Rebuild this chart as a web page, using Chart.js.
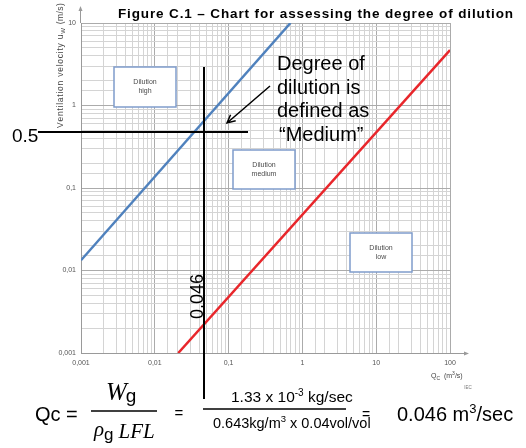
<!DOCTYPE html>
<html>
<head>
<meta charset="utf-8">
<title>Figure C.1</title>
<script src="https://cdn.jsdelivr.net/npm/chart.js@4.4.1/dist/chart.umd.min.js"></script>
<style>
    html, body { margin: 0; padding: 0; background: #ffffff; }
    #wrap { width: 526px; height: 448px; }
</style>
</head>
<body>
<div id="wrap"><canvas id="dilutionChart" width="526" height="448"></canvas></div>
<script>
// --- DATA ---
// boundary lines (log-log, both are straight lines)
const blueX = [0.001, 0.69];
const blueY = [0.0133, 10];
const redX = [0.0208, 100];
const redY = [0.001, 4.7];

// axis ticks
const xTickValues = [0.001, 0.01, 0.1, 1, 10, 100];
const xTickLabels = ['0,001', '0,01', '0,1', '1', '10', '100'];
const yTickValues = [0.001, 0.01, 0.1, 1, 10];
const yTickLabels = ['0,001', '0,01', '0,1', '1', '10'];

// worked example: release rate gives Qc, velocity is 0.5 m/s
const exampleQc = 0.046;
const exampleVelocity = 0.5;

const SANS = '"Liberation Sans", Arial, sans-serif';
const SERIF = '"Liberation Serif", "Times New Roman", serif';

function toPoints(xs, ys) {
    return xs.map((x, i) => ({ x: x, y: ys[i] }));
}

function majorIndex(values, v) {
    for (let i = 0; i < values.length; i++) {
        if (Math.abs(Math.log10(v) - Math.log10(values[i])) < 1e-6) return i;
    }
    return -1;
}

// --- ANNOTATIONS (drawn straight on the canvas) ---
function textAt(ctx, str, x, y, font, color, align, baseline) {
    ctx.font = font;
    ctx.fillStyle = color || '#000';
    ctx.textAlign = align || 'left';
    ctx.textBaseline = baseline || 'alphabetic';
    ctx.fillText(str, x, y);
    return x + ctx.measureText(str).width;
}

// spread the characters so the string fills the given width (wide tracking in the original)
function spreadText(ctx, str, x, y, width, font, color) {
    ctx.font = font;
    ctx.fillStyle = color || '#000';
    ctx.textAlign = 'left';
    ctx.textBaseline = 'alphabetic';
    const natural = ctx.measureText(str).width;
    const gap = (width - natural) / (str.length - 1);
    let px = x;
    for (const ch of str) {
        ctx.fillText(ch, px, y);
        px += ctx.measureText(ch).width + gap;
    }
    return px;
}

function labelBox(ctx, x, y, w, h, lines) {
    ctx.fillStyle = '#ffffff';
    ctx.fillRect(x, y, w, h);
    ctx.strokeStyle = '#7f9ccb';
    ctx.lineWidth = 1.5;
    ctx.strokeRect(x, y, w, h);
    lines.forEach((t, i) => {
        textAt(ctx, t, x + w / 2, y + h / 2 + (i - (lines.length - 1) / 2) * 9, '7px ' + SANS, '#4a4a4a', 'center', 'middle');
    });
}

function arrow(ctx, x1, y1, x2, y2) {
    ctx.strokeStyle = '#000';
    ctx.lineWidth = 1.5;
    ctx.beginPath();
    ctx.moveTo(x1, y1);
    ctx.lineTo(x2, y2);
    const a = Math.atan2(y2 - y1, x2 - x1);
    ctx.moveTo(x2 - 9 * Math.cos(a - 0.45), y2 - 9 * Math.sin(a - 0.45));
    ctx.lineTo(x2, y2);
    ctx.lineTo(x2 - 9 * Math.cos(a + 0.45), y2 - 9 * Math.sin(a + 0.45));
    ctx.stroke();
}

const annotationPlugin = {
    id: 'figureAnnotations',
    afterDatasetsDraw(chart) {
        const ctx = chart.ctx;
        const area = chart.chartArea;
        const xs = chart.scales.x;
        const ys = chart.scales.y;
        ctx.save();

        // axis arrows
        ctx.strokeStyle = '#9a9a9a';
        ctx.fillStyle = '#9a9a9a';
        ctx.lineWidth = 1;
        ctx.beginPath();
        ctx.moveTo(area.right, area.bottom + 0.5);
        ctx.lineTo(area.right + 16, area.bottom + 0.5);
        ctx.moveTo(area.left - 0.5, area.top);
        ctx.lineTo(area.left - 0.5, area.top - 14);
        ctx.stroke();
        ctx.beginPath();
        ctx.moveTo(area.right + 19, area.bottom + 0.5);
        ctx.lineTo(area.right + 14, area.bottom - 1.5);
        ctx.lineTo(area.right + 14, area.bottom + 2.5);
        ctx.fill();
        ctx.beginPath();
        ctx.moveTo(area.left - 0.5, area.top - 17);
        ctx.lineTo(area.left - 2.5, area.top - 12);
        ctx.lineTo(area.left + 1.5, area.top - 12);
        ctx.fill();

        // title
        spreadText(ctx, 'Figure C.1 \u2013 Chart for assessing the degree of dilution', 118, 18, 395, 'bold 13.5px ' + SANS, '#000');

        // y axis title (rotated)
        ctx.save();
        ctx.translate(63, 128);
        ctx.rotate(-Math.PI / 2);
        let px = spreadText(ctx, 'Ventilation velocity u', 0, 0, 93, '8.5px ' + SANS, '#444');
        px = textAt(ctx, 'W', px, 2, '6px ' + SANS, '#444');
        spreadText(ctx, ' (m/s)', px + 1, 0, 24, '8.5px ' + SANS, '#444');
        ctx.restore();

        // x axis title
        px = textAt(ctx, 'Q', 431, 378, '7px ' + SANS, '#444');
        px = textAt(ctx, 'C', px, 380, '5px ' + SANS, '#444');
        px = textAt(ctx, '  (m', px, 378, '7px ' + SANS, '#444');
        px = textAt(ctx, '3', px, 375, '5px ' + SANS, '#444');
        textAt(ctx, '/s)', px, 378, '7px ' + SANS, '#444');
        textAt(ctx, 'IEC', 468, 389, '4.5px ' + SANS, '#777', 'center');

        // dilution zone boxes
        labelBox(ctx, 114, 67, 62, 40, ['Dilution', 'high']);
        labelBox(ctx, 233, 150, 62, 39, ['Dilution', 'medium']);
        labelBox(ctx, 350, 233, 62, 39, ['Dilution', 'low']);

        // crosshair for the worked example
        const cx = Math.round(xs.getPixelForValue(exampleQc));
        const cy = Math.round(ys.getPixelForValue(exampleVelocity)) + 2;
        ctx.strokeStyle = '#000';
        ctx.lineWidth = 2;
        ctx.beginPath();
        ctx.moveTo(cx, 67);
        ctx.lineTo(cx, 399);
        ctx.moveTo(38, cy);
        ctx.lineTo(248, cy);
        ctx.stroke();
        textAt(ctx, String(exampleVelocity), 12, cy + 10, '19px ' + SANS, '#000');
        ctx.save();
        ctx.translate(cx - 1, 319);
        ctx.rotate(-Math.PI / 2);
        textAt(ctx, String(exampleQc), 0, 0, '18px ' + SANS, '#000');
        ctx.restore();

        // callout
        const callout = ['Degree of', 'dilution is', 'defined as', '\u201cMedium\u201d'];
        callout.forEach((t, i) => {
            textAt(ctx, t, i === 3 ? 279 : 277, 70 + i * 23.5, '20px ' + SANS, '#000');
        });
        arrow(ctx, 270, 86, 227, 123);

        // --- FORMULA ---
        textAt(ctx, 'Qc =', 35, 421, '20px ' + SANS, '#000');
        px = textAt(ctx, 'W', 106, 400, 'italic 25px ' + SERIF, '#000');
        textAt(ctx, 'g', px - 1, 402, '19px ' + SANS, '#000');
        ctx.lineWidth = 1.5;
        ctx.beginPath();
        ctx.moveTo(91, 411);
        ctx.lineTo(157, 411);
        ctx.stroke();
        px = textAt(ctx, '\u03c1', 94, 436, 'italic 21px ' + SERIF, '#000');
        px = textAt(ctx, 'g', px, 440, '17px ' + SANS, '#000');
        textAt(ctx, 'LFL', px + 5, 438, 'italic 21px ' + SERIF, '#000');
        textAt(ctx, '=', 179, 418, '15px ' + SANS, '#000', 'center');

        px = textAt(ctx, '1.33 x 10', 231, 402, '15.5px ' + SANS, '#000');
        px = textAt(ctx, '-3', px, 396, '10px ' + SANS, '#000');
        textAt(ctx, ' kg/sec', px, 402, '15.5px ' + SANS, '#000');
        ctx.beginPath();
        ctx.moveTo(203, 409);
        ctx.lineTo(346, 409);
        ctx.stroke();
        px = textAt(ctx, '0.643kg/m', 213, 428, '14.5px ' + SANS, '#000');
        px = textAt(ctx, '3', px, 422, '9.5px ' + SANS, '#000');
        textAt(ctx, ' x 0.04vol/vol', px, 428, '14.5px ' + SANS, '#000');
        textAt(ctx, '=', 366, 419, '14px ' + SANS, '#000', 'center');

        px = textAt(ctx, '0.046 m', 397, 421, '20px ' + SANS, '#000');
        px = textAt(ctx, '3', px, 413, '13px ' + SANS, '#000');
        textAt(ctx, '/sec', px, 421, '20px ' + SANS, '#000');

        ctx.restore();
    }
};

// --- CHART ---
function gridColor(values) {
    return (c) => {
        if (!c.tick) return '#d4d4d4';
        return majorIndex(values, c.tick.value) >= 0 ? '#ababab' : '#d4d4d4';
    };
}

document.addEventListener('DOMContentLoaded', function () {
    const el = document.getElementById('dilutionChart');
    new Chart(el.getContext('2d'), {
        type: 'line',
        data: {
            datasets: [
                {
                    label: 'High / medium limit',
                    data: toPoints(blueX, blueY),
                    borderColor: '#4f81bd',
                    borderWidth: 2.5,
                    pointRadius: 0,
                    tension: 0
                },
                {
                    label: 'Medium / low limit',
                    data: toPoints(redX, redY),
                    borderColor: '#e8262b',
                    borderWidth: 2.5,
                    pointRadius: 0,
                    tension: 0
                }
            ]
        },
        options: {
            responsive: false,
            devicePixelRatio: 1,
            animation: false,
            layout: { padding: { left: 0, top: 23, right: 76, bottom: 0 } },
            plugins: {
                legend: { display: false },
                tooltip: { enabled: false }
            },
            scales: {
                x: {
                    type: 'logarithmic',
                    min: 0.001,
                    max: 100,
                    afterFit: (s) => { s.height = 95; },
                    border: { color: '#9a9a9a', width: 1 },
                    grid: { color: gridColor(xTickValues), lineWidth: 1, drawTicks: false },
                    ticks: {
                        autoSkip: false,
                        maxRotation: 0,
                        padding: 6,
                        color: '#555',
                        font: { family: SANS, size: 7 },
                        callback: (v) => {
                            const i = majorIndex(xTickValues, v);
                            return i >= 0 ? xTickLabels[i] : '';
                        }
                    }
                },
                y: {
                    type: 'logarithmic',
                    min: 0.001,
                    max: 10,
                    afterFit: (s) => { s.width = 81; },
                    border: { color: '#9a9a9a', width: 1 },
                    grid: { color: gridColor(yTickValues), lineWidth: 1, drawTicks: false },
                    ticks: {
                        autoSkip: false,
                        padding: 5,
                        color: '#555',
                        font: { family: SANS, size: 7 },
                        callback: (v) => {
                            const i = majorIndex(yTickValues, v);
                            return i >= 0 ? yTickLabels[i] : '';
                        }
                    }
                }
            }
        },
        plugins: [annotationPlugin]
    });
});
</script>
</body>
</html>
